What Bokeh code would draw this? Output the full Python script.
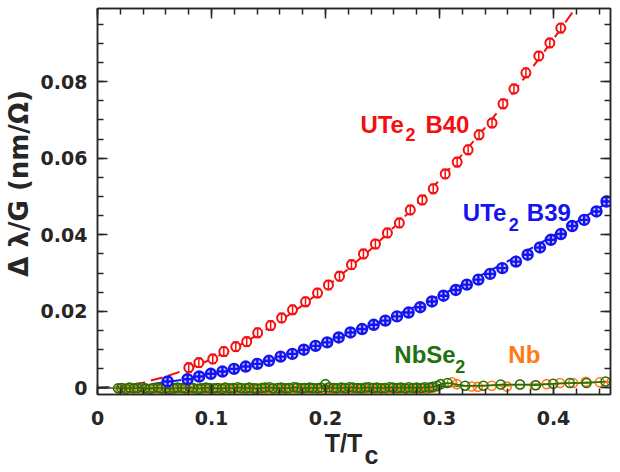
from bokeh.plotting import figure
from bokeh.models import (LinearAxis, SingleIntervalTicker, CustomJSTickFormatter,
                          Label, Range1d)
from bokeh.embed import file_html
from bokeh.resources import INLINE

# ---- UTe2 sample B40 (red) ----
b40_t = [0.0801, 0.0889, 0.1011, 0.1108, 0.1213, 0.1309, 0.1405, 0.1519, 0.1615, 0.1711,
         0.1825, 0.1930, 0.2026, 0.2123, 0.2228, 0.2333, 0.2438, 0.2543, 0.2648, 0.2744,
         0.2849, 0.2945, 0.3050, 0.3155, 0.3251, 0.3347, 0.3461, 0.3557, 0.3653, 0.3758,
         0.3871, 0.3968, 0.4064]
b40_dl = [0.0053, 0.0066, 0.0076, 0.0095, 0.0108, 0.0121, 0.0144, 0.0163, 0.0183, 0.0204,
          0.0225, 0.0248, 0.0269, 0.0292, 0.0322, 0.0350, 0.0376, 0.0405, 0.0431, 0.0465,
          0.0491, 0.0520, 0.0559, 0.0590, 0.0622, 0.0661, 0.0692, 0.0742, 0.0781, 0.0823,
          0.0867, 0.0901, 0.0940]
b40_err = 0.0012
# power-law fit to B40
b40_fit_t = [0.0, 0.02, 0.04, 0.06, 0.08, 0.10, 0.12, 0.14, 0.16, 0.18, 0.20, 0.22,
             0.24, 0.26, 0.28, 0.30, 0.32, 0.34, 0.36, 0.38, 0.40, 0.42, 0.44]
b40_fit_dl = [0.0, 0.0004, 0.0014, 0.0030, 0.0050, 0.0075, 0.0104, 0.0138, 0.0175, 0.0216,
              0.0262, 0.0311, 0.0363, 0.0420, 0.0479, 0.0543, 0.0610, 0.0680, 0.0754,
              0.0831, 0.0911, 0.0995, 0.1081]

# ---- UTe2 sample B39 (blue) ----
b39_t = [0.0615, 0.0790, 0.0892, 0.0994, 0.1096, 0.1198, 0.1300, 0.1402, 0.1504, 0.1606,
         0.1709, 0.1810, 0.1913, 0.2015, 0.2116, 0.2219, 0.2321, 0.2423, 0.2525, 0.2627,
         0.2729, 0.2831, 0.2934, 0.3035, 0.3143, 0.3240, 0.3341, 0.3444, 0.3551, 0.3671,
         0.3773, 0.3881, 0.3977, 0.4065, 0.4164, 0.4269, 0.4377, 0.4465]
b39_dl = [0.0017, 0.0023, 0.0030, 0.0037, 0.0043, 0.0050, 0.0056, 0.0063, 0.0071, 0.0082,
          0.0089, 0.0100, 0.0110, 0.0119, 0.0132, 0.0145, 0.0154, 0.0165, 0.0176, 0.0187,
          0.0197, 0.0211, 0.0226, 0.0241, 0.0256, 0.0270, 0.0283, 0.0298, 0.0313, 0.0330,
          0.0348, 0.0367, 0.0387, 0.0402, 0.0423, 0.0439, 0.0461, 0.0487]
b39_fit_t = [0.0, 0.02, 0.04, 0.06, 0.08, 0.10, 0.12, 0.14, 0.16, 0.18, 0.20, 0.22,
             0.24, 0.26, 0.28, 0.30, 0.32, 0.34, 0.36, 0.38, 0.40, 0.42, 0.44, 0.46]
b39_fit_dl = [0.0, 0.0002, 0.0007, 0.0015, 0.0024, 0.0036, 0.0049, 0.0064, 0.0081, 0.0099,
              0.0119, 0.0141, 0.0164, 0.0188, 0.0214, 0.0241, 0.0270, 0.0300, 0.0331,
              0.0364, 0.0398, 0.0433, 0.0470, 0.0508]

# ---- NbSe2 (green) ----
nbse2_t = [0.018, 0.021, 0.025, 0.028, 0.032, 0.035, 0.039, 0.042, 0.046, 0.049,
           0.053, 0.056, 0.060, 0.063, 0.067, 0.070, 0.074, 0.077, 0.081, 0.084,
           0.088, 0.091, 0.095, 0.098, 0.102, 0.105, 0.109, 0.112, 0.116, 0.119,
           0.123, 0.126, 0.130, 0.133, 0.137, 0.140, 0.144, 0.147, 0.151, 0.154,
           0.158, 0.161, 0.165, 0.168, 0.172, 0.175, 0.179, 0.182, 0.186, 0.189,
           0.193, 0.196, 0.200, 0.203, 0.207, 0.210, 0.214, 0.217, 0.221, 0.224,
           0.228, 0.231, 0.235, 0.238, 0.242, 0.245, 0.249, 0.252, 0.256, 0.259,
           0.263, 0.266, 0.270, 0.273, 0.277, 0.280, 0.284, 0.287, 0.291, 0.294,
           0.298, 0.301,
           0.3070, 0.3225, 0.3385, 0.3537, 0.3706, 0.3846, 0.3997, 0.4143, 0.4290, 0.4456]
nbse2_dl = [-0.0001, 0.0000, -0.0002, 0.0001, -0.0001, 0.0000, 0.0002, -0.0001, -0.0002, 0.0000,
            0.0001, -0.0001, 0.0000, -0.0002, -0.0001, 0.0001, 0.0000, -0.0001, 0.0002, 0.0000,
            -0.0002, -0.0001, 0.0001, 0.0000, -0.0001, 0.0000, -0.0002, 0.0001, -0.0001, 0.0000,
            0.0002, 0.0000, -0.0001, 0.0001, -0.0001, -0.0002, 0.0000, 0.0001, 0.0002, -0.0001,
            0.0000, 0.0001, -0.0001, 0.0000, 0.0002, 0.0001, -0.0001, 0.0000, 0.0001, 0.0000,
            -0.0001, 0.0001, 0.0010, 0.0002, 0.0000, -0.0001, 0.0001, 0.0000, 0.0002, 0.0001,
            0.0000, -0.0001, 0.0001, 0.0002, 0.0000, 0.0001, -0.0001, 0.0000, 0.0002, 0.0001,
            0.0000, 0.0001, -0.0001, 0.0002, 0.0000, 0.0001, 0.0000, 0.0002, 0.0001, 0.0003,
            0.0006, 0.0010,
            0.0013, 0.0006, 0.0006, 0.0009, 0.0009, 0.0007, 0.0011, 0.0013, 0.0013, 0.0017]
nbse2_fit_t = [0.0, 0.05, 0.10, 0.15, 0.20, 0.25, 0.30, 0.35, 0.40, 0.45]
nbse2_fit_dl = [0.0, 0.0, 0.0, 0.0, 0.0001, 0.0002, 0.0004, 0.0007, 0.0011, 0.0016]

# ---- Nb (orange) ----
nb_t = [0.020, 0.023, 0.027, 0.030, 0.034, 0.037, 0.041, 0.044, 0.048, 0.051,
        0.055, 0.058, 0.062, 0.065, 0.069, 0.072, 0.076, 0.079, 0.083, 0.086,
        0.090, 0.093, 0.097, 0.100, 0.104, 0.107, 0.111, 0.114, 0.118, 0.121,
        0.125, 0.128, 0.132, 0.135, 0.139, 0.142, 0.146, 0.149, 0.153, 0.156,
        0.160, 0.163, 0.167, 0.170, 0.174, 0.177, 0.181, 0.184, 0.188, 0.191,
        0.195, 0.198, 0.202, 0.205, 0.209, 0.212, 0.216, 0.219, 0.223, 0.226,
        0.230, 0.233, 0.237, 0.240, 0.244, 0.247, 0.251, 0.254, 0.258, 0.261,
        0.265, 0.268, 0.272, 0.275, 0.279, 0.282, 0.286, 0.289, 0.293, 0.296,
        0.3109, 0.3152, 0.3283, 0.3336, 0.3458, 0.3590, 0.3706, 0.3837, 0.3940, 0.4056,
        0.4172, 0.4283, 0.4406, 0.4510]
nb_dl = [-0.0003, -0.0001, -0.0004, -0.0002, 0.0000, -0.0003, -0.0001, -0.0004, -0.0002, -0.0001,
         -0.0003, -0.0002, -0.0004, -0.0001, -0.0003, 0.0000, -0.0002, -0.0004, -0.0001, -0.0003,
         -0.0002, -0.0001, -0.0004, -0.0003, -0.0002, 0.0000, -0.0003, -0.0001, -0.0004, -0.0002,
         -0.0001, -0.0003, -0.0002, -0.0004, 0.0000, -0.0002, -0.0003, -0.0001, -0.0002, -0.0004,
         -0.0003, -0.0001, -0.0002, -0.0004, -0.0001, -0.0003, 0.0000, -0.0002, -0.0003, -0.0001,
         -0.0002, -0.0004, -0.0001, -0.0003, -0.0002, 0.0000, -0.0003, -0.0001, -0.0004, -0.0002,
         -0.0001, -0.0003, -0.0002, 0.0000, -0.0003, -0.0001, -0.0004, -0.0002, -0.0001, -0.0003,
         -0.0002, 0.0000, -0.0003, -0.0001, -0.0002, -0.0004, -0.0001, -0.0002, 0.0000, 0.0002,
         0.0015, 0.0010, 0.0004, 0.0003, 0.0006, 0.0004, 0.0009, 0.0007, 0.0010, 0.0013,
         0.0013, 0.0016, 0.0015, 0.0016]

RED = "#f50f0f"
BLUE = "#1414f0"
GREEN = "#22720c"
ORANGE = "#ff7a14"
INK = "#262626"
FONT = "Liberation Sans"
TICK_FONT = "DejaVu Sans"
NBSP = "\u00a0"

p = figure(width=620, height=472, output_backend="svg", toolbar_location=None,
           x_range=Range1d(0, 0.45), y_range=Range1d(-0.0017, 0.0991),
           min_border_left=96, min_border_right=10, min_border_top=8, min_border_bottom=77,
           background_fill_color="white", border_fill_color="white")
p.xgrid.visible = False
p.ygrid.visible = False
p.outline_line_color = INK
p.outline_line_width = 1.5


def style_axis(ax, ticker, labels=True):
    ax.ticker = ticker
    ax.axis_line_color = INK
    ax.axis_line_width = 1.5
    ax.major_tick_line_color = INK
    ax.minor_tick_line_color = INK
    ax.major_tick_line_width = 1.5
    ax.minor_tick_line_width = 1.5
    ax.major_tick_in = 10
    ax.major_tick_out = 0
    ax.minor_tick_in = 6
    ax.minor_tick_out = 0
    ax.major_label_text_font = TICK_FONT
    ax.major_label_text_font_style = "bold"
    ax.major_label_text_font_size = "19px"
    ax.major_label_text_color = INK
    if not labels:
        ax.formatter = CustomJSTickFormatter(code='return "";')
        ax.major_label_standoff = 0
        ax.major_label_text_font_size = "0px"


xt = lambda: SingleIntervalTicker(interval=0.1, num_minor_ticks=5)
yt = lambda: SingleIntervalTicker(interval=0.02, num_minor_ticks=4)

# x axis: T/T with the subscript c set on a tight second line
xax = p.xaxis[0]
style_axis(xax, xt())
xax.formatter = CustomJSTickFormatter(
    code='return Math.abs(tick) < 1e-9 ? "0" : tick.toFixed(1);')
xax.major_label_standoff = 16
xax.axis_label = "T/T" + NBSP * 3 + "\n" + NBSP * 5 + "c"
xax.axis_label_text_font = FONT
xax.axis_label_text_font_style = "bold"
xax.axis_label_text_font_size = "25px"
xax.axis_label_text_line_height = 0.45
xax.axis_label_text_color = INK
xax.axis_label_standoff = 1

yax = p.yaxis[0]
style_axis(yax, yt())
yax.formatter = CustomJSTickFormatter(
    code='return Math.abs(tick) < 1e-9 ? "0" : tick.toFixed(2);')
yax.major_label_standoff = 10
yax.axis_label = NBSP * 5 + "Δ  λ/G (nm/Ω)"
yax.axis_label_text_font = "DejaVu Sans"
yax.axis_label_text_font_style = "bold"
yax.axis_label_text_font_size = "26px"
yax.axis_label_text_color = INK
yax.axis_label_standoff = 4

top_ax = LinearAxis()
style_axis(top_ax, xt(), labels=False)
p.add_layout(top_ax, "above")
right_ax = LinearAxis()
style_axis(right_ax, yt(), labels=False)
p.add_layout(right_ax, "right")

# fitted curves
p.line(b40_fit_t, b40_fit_dl, line_color=RED, line_width=2, line_dash="12 6")
p.line(b39_fit_t, b39_fit_dl, line_color=BLUE, line_width=2, line_dash="12 6")
p.line(nbse2_fit_t, nbse2_fit_dl, line_color=GREEN, line_width=1.5)

# Nb and NbSe2 references
p.line(nb_t, nb_dl, line_color=ORANGE, line_width=1)
p.scatter(nb_t, nb_dl, marker="circle", size=9, line_color=ORANGE, line_width=1.6,
          fill_color=None)
p.line(nbse2_t, nbse2_dl, line_color=GREEN, line_width=1.5)
p.scatter(nbse2_t, nbse2_dl, marker="circle", size=9, line_color=GREEN, line_width=1.6,
          fill_color=None)

# UTe2 B39
p.scatter(b39_t, b39_dl, marker="circle_cross", size=10, line_color=BLUE, line_width=2.4,
          fill_color="#c8c8ff")

# UTe2 B40 with error bars
p.scatter(b40_t, b40_dl, marker="circle", size=9, line_color=RED, line_width=2,
          fill_color="white")
b40_lo = [v - b40_err for v in b40_dl]
b40_hi = [v + b40_err for v in b40_dl]
p.segment(b40_t, b40_lo, b40_t, b40_hi, line_color=RED, line_width=1.5)
p.scatter(b40_t, b40_lo, marker="dash", size=6, line_color=RED, line_width=1.5)
p.scatter(b40_t, b40_hi, marker="dash", size=6, line_color=RED, line_width=1.5)


def add_text(x, y, text, color, size, dx=0, dy=0):
    p.add_layout(Label(x=x, y=y, x_offset=dx, y_offset=dy, text=text, text_color=color,
                       text_font=FONT, text_font_style="bold", text_font_size=size,
                       text_baseline="alphabetic", text_align="left"))


add_text(0.2306, 0.0687, "UTe", RED, "24px")
add_text(0.2306, 0.0687, "2", RED, "18px", dx=45, dy=-10)
add_text(0.2306, 0.0687, "B40", RED, "24px", dx=65)

add_text(0.3205, 0.0457, "UTe", BLUE, "24px")
add_text(0.3205, 0.0457, "2", BLUE, "18px", dx=46, dy=-12)
add_text(0.3205, 0.0457, "B39", BLUE, "24px", dx=64)

add_text(0.2604, 0.0087, "NbSe", GREEN, "24px")
add_text(0.2604, 0.0087, "2", GREEN, "18px", dx=61, dy=-12)

add_text(0.3604, 0.0087, "Nb", ORANGE, "24px")

open("out.html", "w").write(file_html(p, INLINE))
